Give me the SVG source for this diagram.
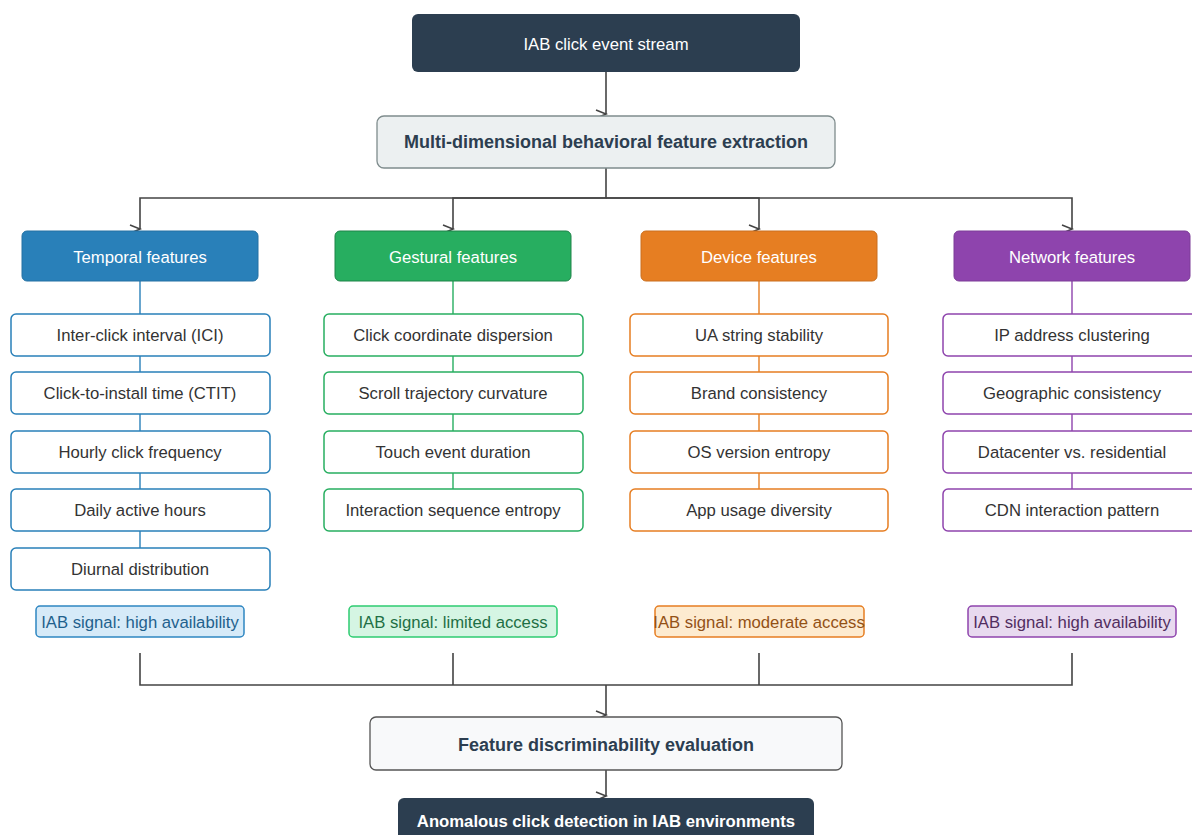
<svg xmlns="http://www.w3.org/2000/svg" width="1192" height="835" viewBox="0 0 1192 835">
<style>
text{font-family:"Liberation Sans",Arial,sans-serif;text-anchor:middle;dominant-baseline:central}
.f{font-size:16.7px;fill:#333}
.w{font-size:16.7px;fill:#fff}
.b{font-size:18px;font-weight:bold;fill:#2c3e50}
.s{font-size:16.7px}
.fb{fill:#fff;stroke-width:1.5}
.conn{stroke:#444;stroke-width:1.6;fill:none}
.t{stroke:#2980b9}.g{stroke:#27ae60}.d{stroke:#e67e22}.n{stroke:#8e44ad}
.cl{stroke-width:1.4;fill:none}
</style>
<defs>
<marker id="ah" markerUnits="userSpaceOnUse" markerWidth="12" markerHeight="10" refX="10" refY="4" orient="0" overflow="visible">
<path d="M0,0 L10,4 L1,8" fill="none" stroke="#444" stroke-width="1.6"/>
</marker>
</defs>
<rect width="1192" height="835" fill="#fff"/>
<g id="connectors">
<path class="conn" d="M606,72 V114" marker-end="url(#ah)"/>
<path class="conn" d="M606,168 V198 H140 V229" marker-end="url(#ah)"/>
<path class="conn" d="M606,198 H453 V229" marker-end="url(#ah)"/>
<path class="conn" d="M606,198 H759 V229" marker-end="url(#ah)"/>
<path class="conn" d="M606,198 H1072 V229" marker-end="url(#ah)"/>
<path class="cl t" d="M140,281 V548"/>
<path class="cl g" d="M453,281 V489"/>
<path class="cl d" d="M759,281 V489"/>
<path class="cl n" d="M1072,281 V489"/>
<path class="conn" d="M140,653 V685 H1072 V653 M453,653 V685 M759,653 V685" stroke-width="1.4"/>
<path class="conn" d="M606,685 V715" marker-end="url(#ah)"/>
<path class="conn" d="M606,770 V796" marker-end="url(#ah)"/>
</g>
<g id="src"><rect x="412" y="14" width="388" height="58" rx="6" fill="#2c3e50"/><text class="w" x="606" y="44">IAB click event stream</text></g>
<g id="extract"><rect x="377" y="116" width="458" height="52" rx="7" fill="#ecf0f1" stroke="#7f8c8d" stroke-width="1.3"/><text class="b" x="606" y="142">Multi-dimensional behavioral feature extraction</text></g>
<g id="cat-temporal"><rect x="22" y="231" width="236" height="50" rx="5" fill="#2980b9" stroke="#2471a3"/><text class="w" x="140" y="257">Temporal features</text></g>
<g id="cat-gestural"><rect x="335" y="231" width="236" height="50" rx="5" fill="#27ae60" stroke="#1e8449"/><text class="w" x="453" y="257">Gestural features</text></g>
<g id="cat-device"><rect x="641" y="231" width="236" height="50" rx="5" fill="#e67e22" stroke="#ca6f1e"/><text class="w" x="759" y="257">Device features</text></g>
<g id="cat-network"><rect x="954" y="231" width="236" height="50" rx="5" fill="#8e44ad" stroke="#7d3c98"/><text class="w" x="1072" y="257">Network features</text></g>

<g id="t1"><rect class="fb t" x="11" y="314" width="259" height="42" rx="5"/><text class="f" x="140" y="335">Inter-click interval (ICI)</text></g>
<g id="t2"><rect class="fb t" x="11" y="372" width="259" height="42" rx="5"/><text class="f" x="140" y="393">Click-to-install time (CTIT)</text></g>
<g id="t3"><rect class="fb t" x="11" y="431" width="259" height="42" rx="5"/><text class="f" x="140" y="452">Hourly click frequency</text></g>
<g id="t4"><rect class="fb t" x="11" y="489" width="259" height="42" rx="5"/><text class="f" x="140" y="510">Daily active hours</text></g>
<g id="t5"><rect class="fb t" x="11" y="548" width="259" height="42" rx="5"/><text class="f" x="140" y="569">Diurnal distribution</text></g>

<g id="g1"><rect class="fb g" x="324" y="314" width="259" height="42" rx="5"/><text class="f" x="453" y="335">Click coordinate dispersion</text></g>
<g id="g2"><rect class="fb g" x="324" y="372" width="259" height="42" rx="5"/><text class="f" x="453" y="393">Scroll trajectory curvature</text></g>
<g id="g3"><rect class="fb g" x="324" y="431" width="259" height="42" rx="5"/><text class="f" x="453" y="452">Touch event duration</text></g>
<g id="g4"><rect class="fb g" x="324" y="489" width="259" height="42" rx="5"/><text class="f" x="453" y="510">Interaction sequence entropy</text></g>

<g id="d1"><rect class="fb d" x="630" y="314" width="258" height="42" rx="5"/><text class="f" x="759" y="335">UA string stability</text></g>
<g id="d2"><rect class="fb d" x="630" y="372" width="258" height="42" rx="5"/><text class="f" x="759" y="393">Brand consistency</text></g>
<g id="d3"><rect class="fb d" x="630" y="431" width="258" height="42" rx="5"/><text class="f" x="759" y="452">OS version entropy</text></g>
<g id="d4"><rect class="fb d" x="630" y="489" width="258" height="42" rx="5"/><text class="f" x="759" y="510">App usage diversity</text></g>

<g id="n1"><rect class="fb n" x="943" y="314" width="259" height="42" rx="5"/><text class="f" x="1072" y="335">IP address clustering</text></g>
<g id="n2"><rect class="fb n" x="943" y="372" width="259" height="42" rx="5"/><text class="f" x="1072" y="393">Geographic consistency</text></g>
<g id="n3"><rect class="fb n" x="943" y="431" width="259" height="42" rx="5"/><text class="f" x="1072" y="452">Datacenter vs. residential</text></g>
<g id="n4"><rect class="fb n" x="943" y="489" width="259" height="42" rx="5"/><text class="f" x="1072" y="510">CDN interaction pattern</text></g>

<g id="sig-temporal"><rect x="36" y="606" width="208" height="31" rx="4" fill="#d6eaf8" stroke="#2e86c1" stroke-width="1.5"/><text class="s" x="140" y="622" fill="#1f618d">IAB signal: high availability</text></g>
<g id="sig-gestural"><rect x="349" y="606" width="208" height="31" rx="4" fill="#d5f5e3" stroke="#2ecc71" stroke-width="1.5"/><text class="s" x="453" y="622" fill="#1e6f45">IAB signal: limited access</text></g>
<g id="sig-device"><rect x="655" y="606" width="209" height="31" rx="4" fill="#fdebd0" stroke="#e67e22" stroke-width="1.5"/><text class="s" x="759" y="622" fill="#935116">IAB signal: moderate access</text></g>
<g id="sig-network"><rect x="968" y="606" width="208" height="31" rx="4" fill="#e8daef" stroke="#8e44ad" stroke-width="1.5"/><text class="s" x="1072" y="622" fill="#512e5f">IAB signal: high availability</text></g>

<g id="eval"><rect x="370" y="717" width="472" height="53" rx="6" fill="#f8f9fa" stroke="#555" stroke-width="1.3"/><text class="b" x="606" y="745">Feature discriminability evaluation</text></g>
<g id="detect"><rect x="398" y="798" width="416" height="60" rx="6" fill="#2c3e50"/><text x="606" y="821" font-size="16.7" font-weight="bold" fill="#fff">Anomalous click detection in IAB environments</text></g>
</svg>
